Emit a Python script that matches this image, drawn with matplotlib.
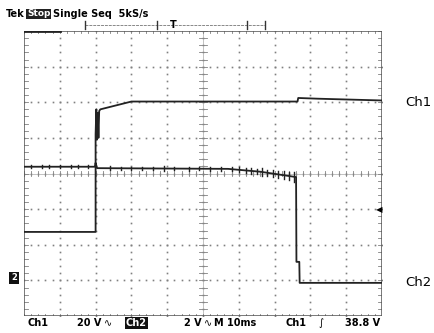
import numpy as np
import matplotlib
matplotlib.use("Agg")
import matplotlib.pyplot as plt

# time in ms (10 ms/div), levels in screen divisions (0 = bottom graticule)
ch1_t = [0, 20, 20, 20.2, 20.4, 20.6, 20.8, 21.0, 21.3, 30, 76.4, 76.6, 82, 100]
ch1_v = [2.36, 2.36, 5.1, 5.8, 4.95, 5.7, 5.0, 5.75, 5.8, 6.02, 6.02, 6.12, 6.1, 6.05]

ch2_t = [0, 19.8, 20.0, 20.4, 57, 66, 76, 76.1, 76.9, 77.0, 100]
ch2_v = [4.19, 4.19, 4.3, 4.15, 4.13, 4.05, 3.9, 1.52, 1.52, 0.93, 0.93]

# spikes riding on Ch2 (time ms, half height in div)
spike_t = [2, 5, 7, 10, 13, 15, 18, 24, 27, 30, 33, 36, 39, 42, 46, 49, 52, 55,
           58, 60, 62, 63.5, 65, 66.5, 68, 69.5, 71, 72.5, 74, 75.5]
spike_h = [0.04, 0.04, 0.04, 0.04, 0.04, 0.04, 0.04, 0.05, 0.05, 0.05, 0.05, 0.05,
           0.06, 0.05, 0.06, 0.05, 0.05, 0.06, 0.06, 0.07, 0.08, 0.08, 0.08, 0.1,
           0.08, 0.1, 0.09, 0.12, 0.1, 0.14]

fig = plt.figure(figsize=(4.35, 3.33), dpi=100)
W, H = 435, 333
x0, x1, y0, y1 = 24, 382, 31, 316
ax = fig.add_axes([x0 / W, (H - y1) / H, (x1 - x0) / W, (y1 - y0) / H])
ax.set_xlim(0, 100)
ax.set_ylim(0, 8)
ax.axis("off")

grid_c = "#808080"
# dotted graticule
for i in range(1, 10):
    ax.plot([i * 10] * 41, np.linspace(0, 8, 41), ls="none", marker="s",
            ms=1.2, mew=0, color=grid_c)
for j in range(1, 8):
    ax.plot(np.linspace(0, 100, 51), [j] * 51, ls="none", marker="s",
            ms=1.2, mew=0, color=grid_c)
# center axes with minor ticks
ax.plot([50, 50], [0, 8], color="#aaaaaa", lw=0.5)
ax.plot([0, 100], [4, 4], color="#aaaaaa", lw=0.5)
for k in np.arange(0, 100.01, 2):
    ax.plot([k, k], [3.94, 4.06], color=grid_c, lw=0.6)
    ax.plot([k, k], [0, 0.06], color=grid_c, lw=0.6)
    ax.plot([k, k], [7.94, 8], color=grid_c, lw=0.6)
for k in np.arange(0, 8.01, 0.2):
    ax.plot([49, 51], [k, k], color=grid_c, lw=0.6)
    ax.plot([0, 1.0], [k, k], color=grid_c, lw=0.6)
    ax.plot([99, 100], [k, k], color=grid_c, lw=0.6)
# frame
ax.plot([0, 100, 100, 0, 0], [0, 0, 8, 8, 0], color="#555555", lw=1.1)
ax.plot([0, 10], [8, 8], color="#222222", lw=2.0)

# traces
ax.plot(ch1_t, ch1_v, color="#222222", lw=1.3)
ax.plot(ch2_t, ch2_v, color="#222222", lw=1.3)
for t, h in zip(spike_t, spike_h):
    v = np.interp(t, ch2_t, ch2_v)
    ax.plot([t, t], [v - h, v + h], color="#222222", lw=1.0)

# screen text
fig.text(6 / W, 1 - 14 / H, "Tek", fontsize=7, fontweight="bold", va="center")
fig.text(27 / W, 1 - 14 / H, "Stop", fontsize=6.5, fontweight="bold", va="center",
         color="white", bbox=dict(facecolor="#222222", edgecolor="none", pad=0.6))
fig.text(53 / W, 1 - 14 / H, "Single Seq  5kS/s", fontsize=7, fontweight="bold",
         va="center")

# top acquisition ruler
ty = 1 - 25 / H
fig.add_artist(plt.Line2D([85 / W, 265 / W], [ty, ty], color="#888888", lw=0.7,
                          ls=(0, (3, 1))))
for xp in [85, 157, 247, 265]:
    fig.add_artist(plt.Line2D([xp / W, xp / W], [ty - 4 / H, ty + 4 / H],
                              color="#333333", lw=1.0))
fig.text(173 / W, ty, "T", fontsize=7, fontweight="bold", ha="center", va="center")

fig.text(405 / W, 1 - 103 / H, "Ch1", fontsize=9.5, va="center")
fig.text(405 / W, 1 - 283 / H, "Ch2", fontsize=9.5, va="center")

# Ch2 ground marker and trigger level marker
fig.text(14 / W, 1 - 278 / H, "2", fontsize=6, color="white", ha="center",
         va="center", fontweight="bold",
         bbox=dict(facecolor="#111111", edgecolor="none", pad=1.2))
fig.text(379 / W, 1 - 210 / H, "◀", fontsize=6, ha="center", va="center")

by = 1 - 323 / H
fs = 7
fig.text(28 / W, by, "Ch1", fontsize=fs, va="center", fontweight="bold")
fig.text(77 / W, by, "20 V", fontsize=fs, va="center", fontweight="bold")
fig.text(104 / W, by, "∿", fontsize=fs, va="center")
fig.text(126 / W, by, "Ch2", fontsize=fs, va="center", color="white",
         fontweight="bold", bbox=dict(facecolor="#111111", edgecolor="none", pad=0.5))
fig.text(184 / W, by, "2 V", fontsize=fs, va="center", fontweight="bold")
fig.text(204 / W, by, "∿", fontsize=fs, va="center")
fig.text(214 / W, by, "M 10ms", fontsize=fs, va="center", fontweight="bold")
fig.text(286 / W, by, "Ch1", fontsize=fs, va="center", fontweight="bold")
fig.text(318 / W, by, "∫", fontsize=fs, va="center")
fig.text(345 / W, by, "38.8 V", fontsize=fs, va="center", fontweight="bold")

fig.savefig("out.png", dpi=100, facecolor="white")
